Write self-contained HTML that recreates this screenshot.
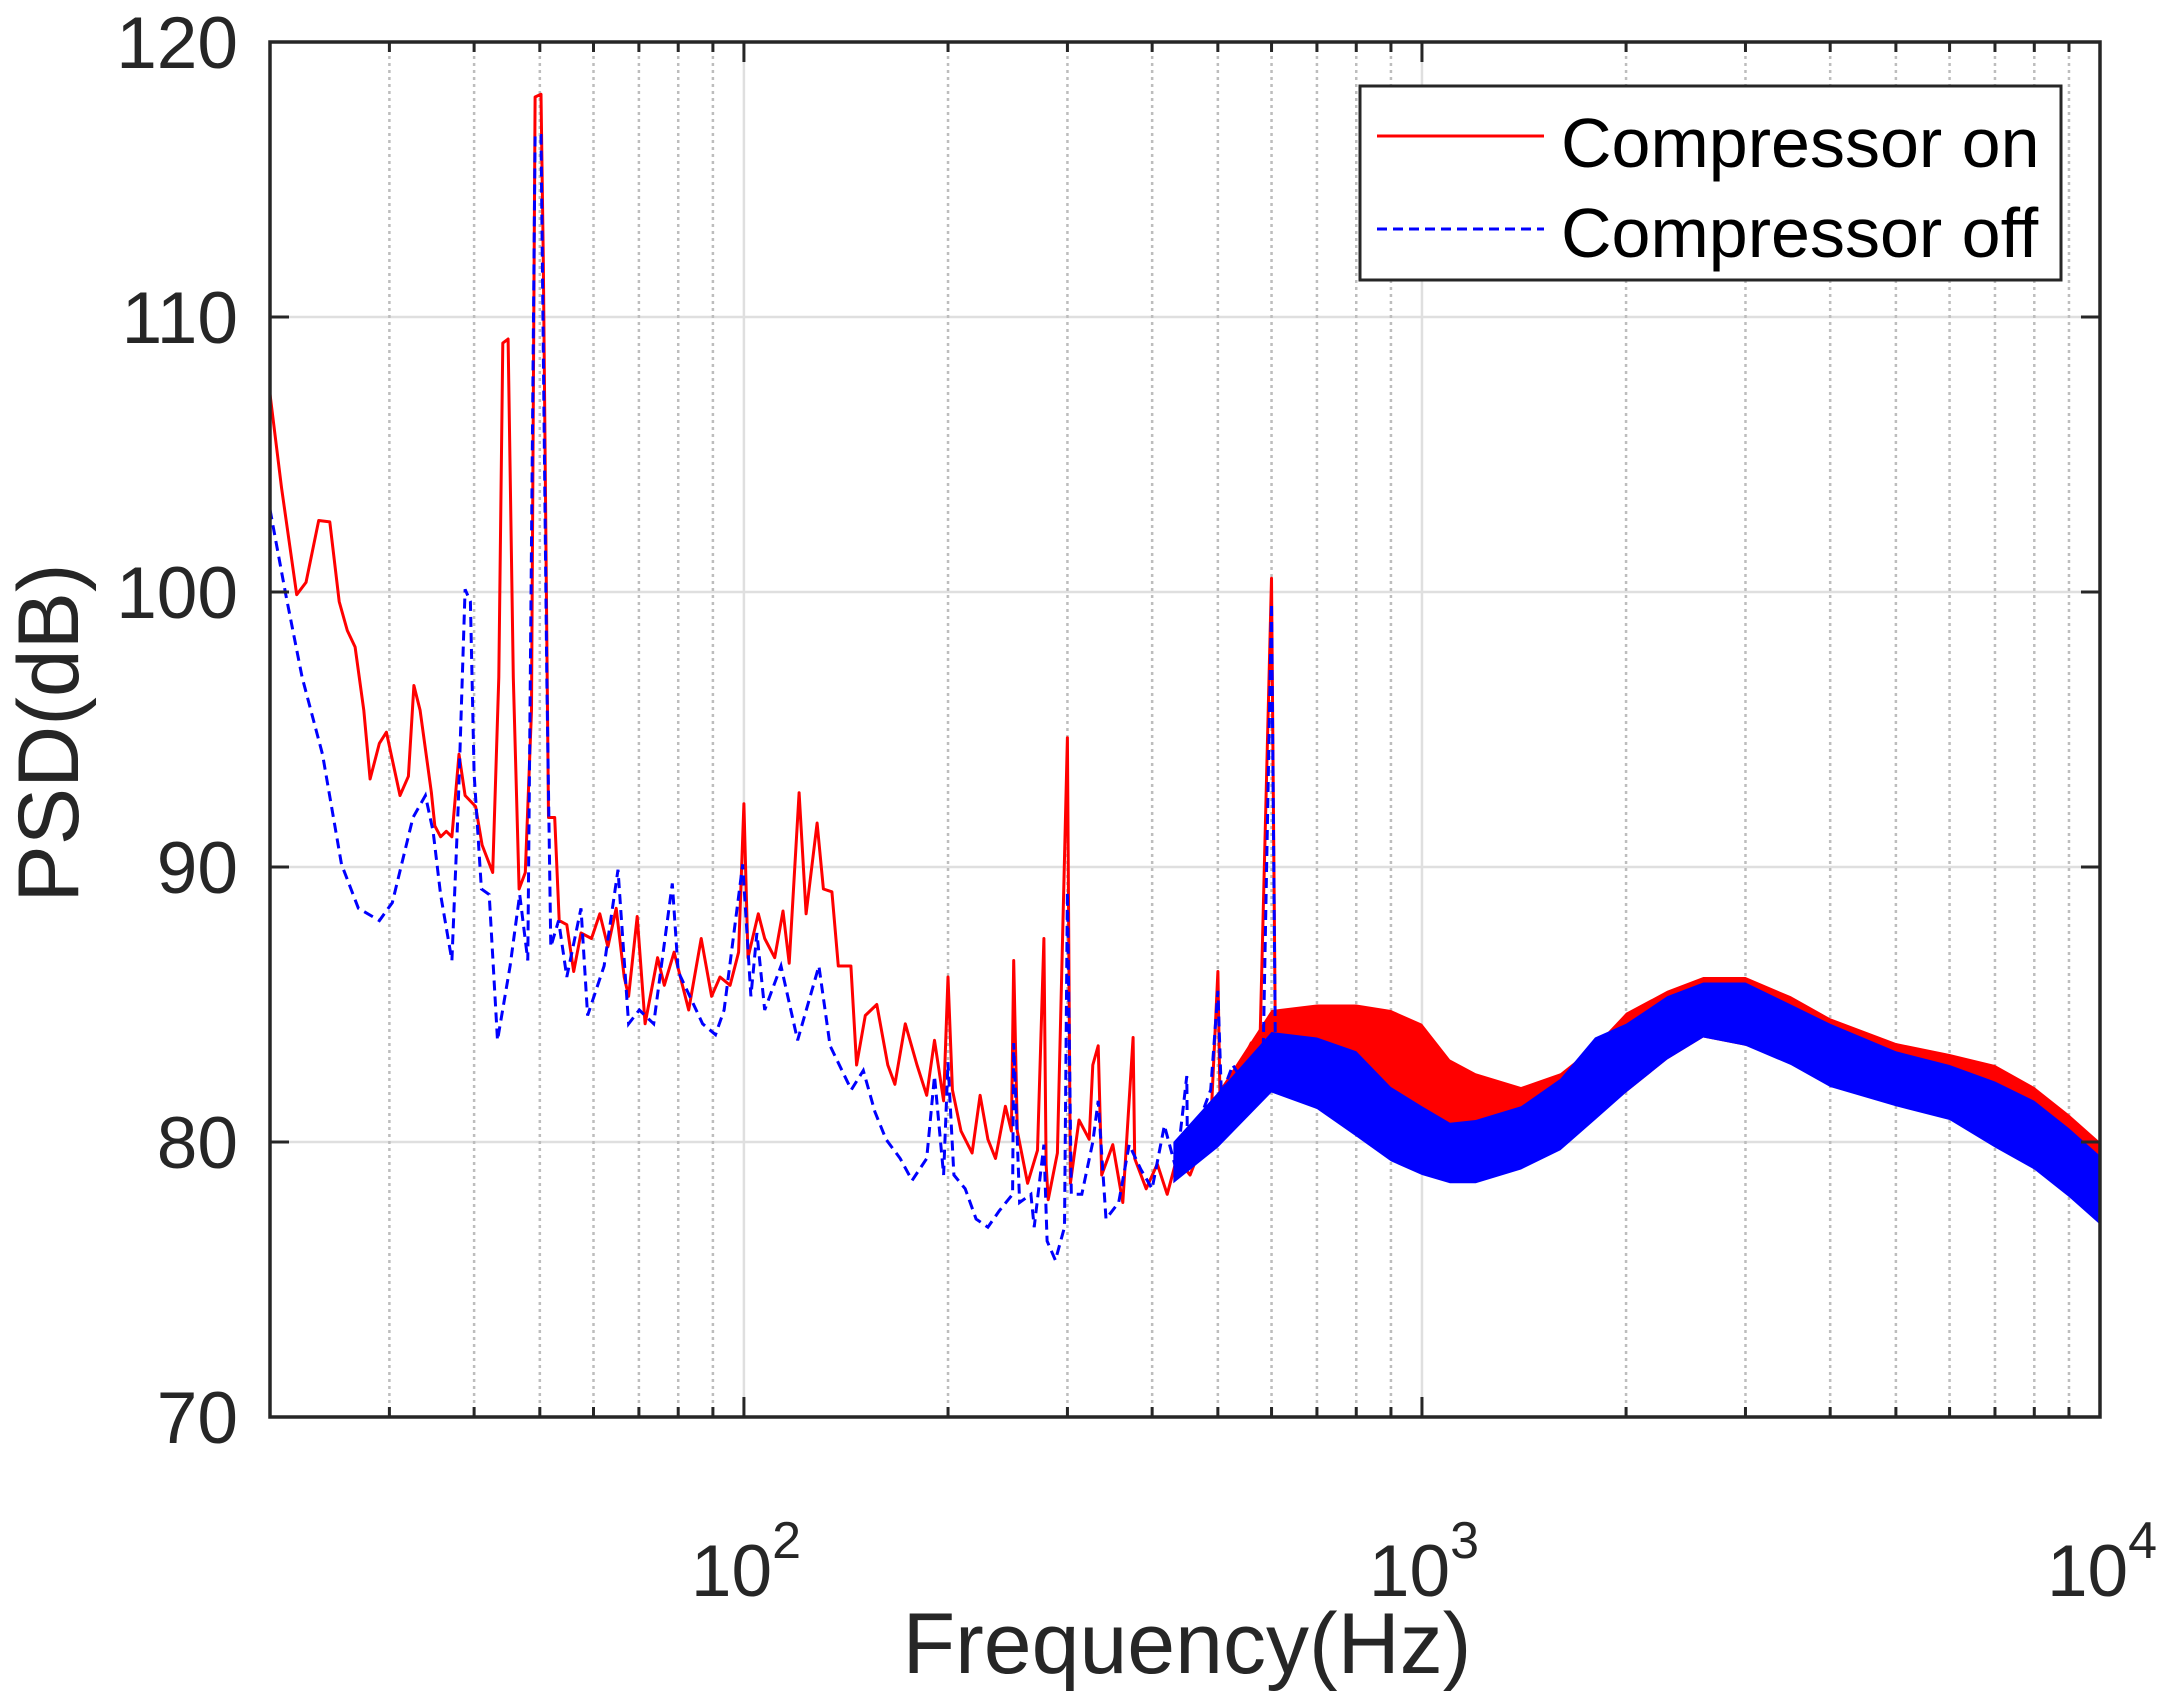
<!DOCTYPE html>
<html><head><meta charset="utf-8"><style>
html,body{margin:0;padding:0;background:#fff;}
svg{display:block;font-family:"Liberation Sans",Arial,sans-serif;}
</style></head><body>
<svg id="chart" width="2170" height="1692" viewBox="0 0 2170 1692" xmlns="http://www.w3.org/2000/svg">
<rect x="0" y="0" width="2170" height="1692" fill="#fff"/>
<g id="grid"></g>
<g id="bands"></g>
<g id="series"></g>
<g id="axes"></g>
<text x="1187" y="1673" font-size="86" text-anchor="middle" fill="#262626">Frequency(Hz)</text>
<text transform="translate(78,733) rotate(-90)" font-size="86" text-anchor="middle" fill="#262626">PSD(dB)</text>
<g>
<rect x="1360" y="86" width="701" height="194" fill="#fff" stroke="#262626" stroke-width="3"/>
<line x1="1377" y1="136" x2="1544" y2="136" stroke="#ff0000" stroke-width="3"/>
<text x="1561" y="167" font-size="70" fill="#000">Compressor on</text>
<line x1="1377" y1="229" x2="1544" y2="229" stroke="#0000ff" stroke-width="3" stroke-dasharray="10 6"/>
<text x="1561" y="257" font-size="70" fill="#000">Compressor off</text>
</g>
</svg>
<script>
const yTicks = [70, 80, 90, 100, 110, 120];
const xMajor = [100, 1000, 10000];
const xMajorLabels = ["2", "3", "4"];
const xMinor = [30,40,50,60,70,80,90,200,300,400,500,600,700,800,900,2000,3000,4000,5000,6000,7000,8000,9000];

const redFreq = [20,20.8,21.9,22.6,23.6,24.5,25.3,26.0,26.7,27.5,28.1,29.0,29.7,31.1,32.0,32.6,33.3,34.6,35.0,35.7,36.4,37.1,38.0,38.8,40.2,41.1,42.6,43.5,44.1,44.9,45.7,46.6,47.6,48.6,49.2,50.2,50.6,51.5,52.6,53.4,54.8,56.1,57.5,59.6,61.3,63.0,64.8,66.6,67.6,69.6,71.5,74.6,76.3,78.9,82.9,86.5,89.6,92.2,95.4,98.2,100,101.4,105,107.3,111,114.2,116.6,120.6,123.5,128.2,131.0,134.8,137.8,143.8,146.6,151,157,163,167,173,180,186,191,197,200,203,209,217,223,229,235,243,248,250,253,262,271,277,279,281,290,300,303,312,323,327,333,337,350,362,375,377,392,407,421,435,455,470,488,500,504,520,540,560,575,600,608,626,660,678,712,750,786,825,870,910,1000,1060,1100,1200,1400,1600,1800,2000,2300,2600,3000,3500,4000,5000,6000,7000,8000,9000,10000];
const redDb = [107.2,103.8,99.9,100.35,102.6,102.55,99.65,98.6,98.0,95.7,93.2,94.5,94.9,92.6,93.3,96.6,95.7,92.7,91.5,91.1,91.3,91.1,94.1,92.6,92.2,90.8,89.8,96.9,109.05,109.2,96.9,89.2,89.8,95.7,118.0,118.1,112.1,91.8,91.8,88.05,87.9,86.2,87.6,87.4,88.3,87.1,88.5,86.0,85.3,88.2,84.3,86.7,85.7,86.9,84.8,87.4,85.3,86.0,85.7,86.9,92.3,86.7,88.3,87.4,86.7,88.4,86.5,92.7,88.3,91.6,89.2,89.1,86.4,86.4,82.8,84.6,85.0,82.8,82.1,84.3,82.8,81.7,83.7,81.5,86.0,81.9,80.4,79.6,81.7,80.1,79.4,81.3,80.4,86.6,80.4,78.5,79.7,87.4,79.2,77.9,79.6,94.7,78.5,80.8,80.1,82.8,83.5,78.8,79.9,77.8,83.8,79.4,78.3,79.2,78.1,79.4,78.8,79.7,80.6,86.2,81.1,82.2,82.8,83.6,82.2,100.5,83.6,83.9,82.9,83.9,83.3,83.9,83.6,83.0,83.8,82.8,83.0,82.8,81.1,81.0,80.6,81.0,82.0,83.0,84.0,84.8,84.6,84.0,83.4,82.6,82.0,81.5,80.6,79.6,78.6];

const blueFreq = [20,21.1,22.3,23.9,25.5,27.0,29.0,30.3,32.5,33.9,34.8,35.7,37.1,37.9,38.8,39.5,40.0,41.0,42.1,43.3,45.2,46.7,48.0,49.2,50.2,51.2,51.9,53.3,54.8,57.5,58.8,62.2,65.2,67.6,70.1,73.6,78.4,80,83.2,86.9,90.8,93.5,99.6,102.4,104.5,107.3,113.4,120,129,134,144,150,156,162,170,177,186,191,197,200,204,212,220,229,238,249,250,255,265,268,277,280,288,297,300,304,315,327,333,342,357,370,385,400,417,434,450,451,470,488,500,506,526,545,566,582,600,608,626,656,683,720,760,800,835,880,925,1000,1050,1100,1200,1400,1600,1800,2000,2300,2600,3000,3500,4000,5000,6000,7000,8000,9000,10000];
const blueDb = [103.0,99.9,96.9,94.1,90.1,88.5,88.05,88.7,91.8,92.6,91.3,89.0,86.6,92.2,100.1,99.65,93.4,89.2,89.0,83.7,86.4,89.0,86.6,116.6,116.6,96.9,87.1,88.05,86.0,88.5,84.6,86.4,89.9,84.3,84.8,84.3,89.4,86.2,85.3,84.3,83.9,84.8,90.1,85.3,87.6,84.8,86.4,83.7,86.4,83.5,81.9,82.6,81.1,80.1,79.4,78.6,79.4,82.4,78.8,82.9,78.8,78.3,77.2,76.9,77.5,78.1,83.6,77.8,78.1,76.9,79.9,76.4,75.7,76.9,89.1,78.1,78.1,80.0,81.5,77.2,77.8,79.9,79.0,78.3,80.6,79.0,82.4,79.4,80.8,81.9,85.5,81.7,82.8,82.2,82.8,82.1,99.6,83.3,82.5,82.8,82.2,82.4,82.5,81.5,81.0,80.8,80.4,80.0,79.6,79.3,79.4,80.0,80.8,82.0,83.0,84.0,84.8,84.6,84.0,83.2,82.3,81.8,81.0,80.2,79.2,78.0];

const bandFreq = [430,500,600,700,800,900,1000,1100,1200,1400,1600,1800,2000,2300,2600,3000,3500,4000,5000,6000,7000,8000,9000,10000];
const redHi = [79.5,81.8,84.8,85,85,84.8,84.3,83,82.5,82,82.5,83.5,84.7,85.5,86,86,85.3,84.5,83.6,83.2,82.8,82,81,80];
const redLo = [78.5,80,82,82,82,81.8,81.2,80,79.8,79.5,80,81,81.8,83,83.8,83.5,83,82.3,81.5,81,80.3,79.5,78.3,77.3];
const blueHi = [80,81.8,84,83.8,83.3,82,81.3,80.7,80.8,81.3,82.3,83.8,84.3,85.3,85.8,85.8,85,84.3,83.3,82.8,82.2,81.5,80.5,79.5];
const blueLo = [78.5,79.8,81.8,81.2,80.2,79.3,78.8,78.5,78.5,79,79.7,80.8,81.8,83,83.8,83.5,82.8,82,81.3,80.8,79.8,79,78,77];

const L=270,R=2100,T=42,B=1417;
const fMin=20,fMax=10000,vMin=70,vMax=120;
function xs(f){return L+(Math.log10(f)-Math.log10(fMin))/(Math.log10(fMax)-Math.log10(fMin))*(R-L);}
function ys(v){return B-(v-vMin)/(vMax-vMin)*(B-T);}
const NS="http://www.w3.org/2000/svg";
function mk(tag,parent,attrs){const e=document.createElementNS(NS,tag);for(const k in attrs)e.setAttribute(k,attrs[k]);parent.appendChild(e);return e;}

const grid=document.getElementById('grid');
const axes=document.getElementById('axes');
yTicks.forEach(v=>{
  if(v>vMin&&v<vMax){const g=mk('line',grid,{x1:L,x2:R,y1:ys(v),y2:ys(v),stroke:'#dfdfdf','stroke-width':2.5});
  
  }
  const t1=mk('line',axes,{x1:L,x2:L+19,y1:ys(v),y2:ys(v),stroke:'#262626','stroke-width':3});
  
  
  const t2=mk('line',axes,{x1:R,x2:R-19,y1:ys(v),y2:ys(v),stroke:'#262626','stroke-width':3});
  
  
  const lb=mk('text',axes,{x:238,y:ys(v)+26,'font-size':73,'text-anchor':'end',fill:'#262626'});
  lb.textContent=String(v);
  
  
});
xMinor.forEach(f=>{
  const g=mk('line',grid,{x1:xs(f),x2:xs(f),y1:T,y2:B,stroke:'#bdbdbd','stroke-width':2.5,'stroke-dasharray':'3 4'});
  
  
  const t1=mk('line',axes,{x1:xs(f),x2:xs(f),y1:B,y2:B-10,stroke:'#262626','stroke-width':3});
  
  
  const t2=mk('line',axes,{x1:xs(f),x2:xs(f),y1:T,y2:T+10,stroke:'#262626','stroke-width':3});
  
  
});
xMajor.forEach((f,i)=>{
  if(f<fMax){const g=mk('line',grid,{x1:xs(f),x2:xs(f),y1:T,y2:B,stroke:'#dfdfdf','stroke-width':2.5});
  
  }
  const t1=mk('line',axes,{x1:xs(f),x2:xs(f),y1:B,y2:B-20,stroke:'#262626','stroke-width':3});
  
  
  const t2=mk('line',axes,{x1:xs(f),x2:xs(f),y1:T,y2:T+20,stroke:'#262626','stroke-width':3});
  
  
  const lb=mk('text',axes,{x:xs(f)+2,y:1596,'font-size':73,'text-anchor':'middle',fill:'#262626'});
  
  
  const a=mk('tspan',lb,{});a.textContent='10';
  const b=mk('tspan',lb,{dy:-38,'font-size':52});b.textContent=xMajorLabels[i];
});
const frame=mk('rect',axes,{x:L,y:T,width:R-L,height:B-T,fill:'none',stroke:'#262626','stroke-width':3.5});



const clip=mk('clipPath',document.getElementById('chart'),{id:'pc'});
mk('rect',clip,{x:L,y:T,width:R-L,height:B-T});

function bandPath(lo,hi){
  let d='';
  bandFreq.forEach((f,i)=>{d+=(i?'L':'M')+xs(f).toFixed(1)+','+ys(hi[i]).toFixed(1);});
  for(let i=bandFreq.length-1;i>=0;i--){d+='L'+xs(bandFreq[i]).toFixed(1)+','+ys(lo[i]).toFixed(1);}
  return d+'Z';
}
function linePath(fr,db){return fr.map((f,i)=>(i?'L':'M')+xs(f).toFixed(1)+','+ys(db[i]).toFixed(1)).join('');}
const series=document.getElementById('series');
const rb=mk('path',series,{d:bandPath(redLo,redHi),fill:'#ff0000','clip-path':'url(#pc)'});


const rl=mk('path',series,{d:linePath(redFreq,redDb),fill:'none',stroke:'#ff0000','stroke-width':3,'stroke-linejoin':'round','clip-path':'url(#pc)'});


const bb=mk('path',series,{d:bandPath(blueLo,blueHi),fill:'#0000ff','clip-path':'url(#pc)'});


const bl=mk('path',series,{d:linePath(blueFreq,blueDb),fill:'none',stroke:'#0000ff','stroke-width':3,'stroke-dasharray':'10 6','clip-path':'url(#pc)'});


</script>
</body></html>
